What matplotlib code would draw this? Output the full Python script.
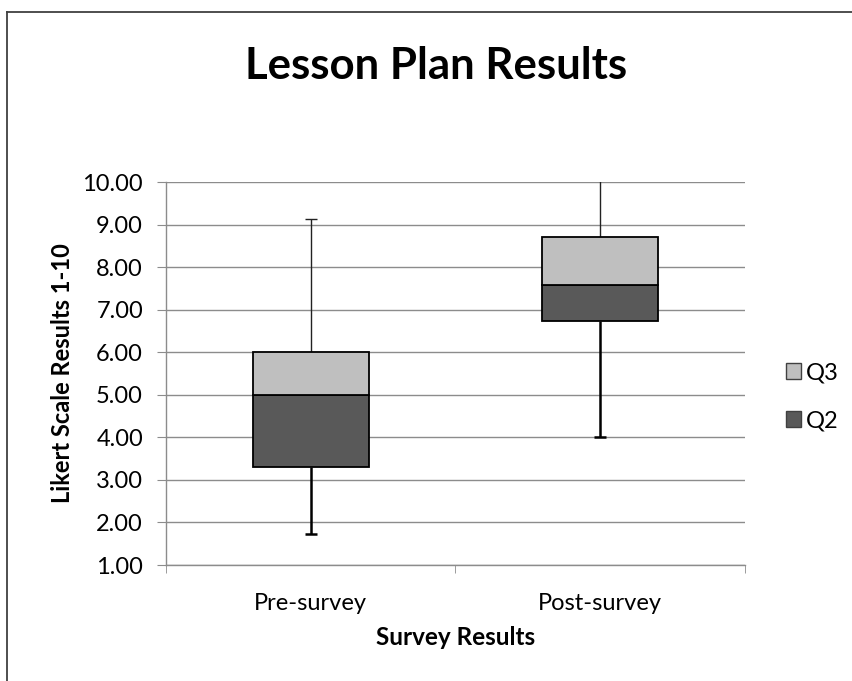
import matplotlib
matplotlib.use("Agg")
import matplotlib.pyplot as plt
from matplotlib.lines import Line2D
from matplotlib.patches import Patch

plt.rcParams['font.family'] = ['Lato', 'DejaVu Sans']

groups = ['Pre-survey', 'Post-survey']
lo = [1.72, 4.02]       # whisker bottom
q1 = [3.30, 6.74]
med = [5.00, 7.58]
q3 = [6.00, 8.71]
hi = [9.14, 10.30]      # whisker top (post runs off the top)

grid_col = '#8c8c8c'
fig = plt.figure(figsize=(8.52, 6.81), dpi=100)
ax = fig.add_axes([0.1948, 0.1703, 0.6796, 0.5624])

x = list(range(len(groups)))
low_seg = [m - a for m, a in zip(med, q1)]
up_seg = [b - m for b, m in zip(q3, med)]

ax.bar(x, low_seg, bottom=q1, width=0.4, color='#595959',
       edgecolor='black', linewidth=1.3, zorder=3)
ax.bar(x, up_seg, bottom=med, width=0.4, color='#bfbfbf',
       edgecolor='black', linewidth=1.3, zorder=3)

# whiskers: thick below the box, thin above
ax.vlines(x, lo, q1, color='black', linewidth=1.8, zorder=2.5)
ax.plot(x, lo, ls='none', marker='_', markersize=9, markeredgewidth=1.8,
        color='black', zorder=2.5)
ax.vlines(x, q3, hi, color='#222222', linewidth=1.0, zorder=2.5)
ax.plot(x, hi, ls='none', marker='_', markersize=9, markeredgewidth=1.0,
        color='#222222', zorder=2.5)

ax.set_ylim(1, 10)
ax.set_xlim(-0.5, 1.5)
ax.set_yticks(range(1, 11))
ax.set_yticklabels(['%.2f' % v for v in range(1, 11)])
ax.set_xticks(x)
ax.set_xticklabels(groups)
ax.set_xticks([-0.5, 0.5, 1.5], minor=True)
ax.tick_params(axis='x', which='major', length=0, pad=20, labelsize=17)
ax.tick_params(axis='x', which='minor', length=6, color=grid_col, direction='out')
ax.tick_params(axis='y', length=6.5, color=grid_col, pad=10, labelsize=17)
ax.grid(axis='y', color=grid_col, linewidth=1.0, zorder=0)
ax.set_axisbelow(True)
for s in ['top', 'right']:
    ax.spines[s].set_visible(False)
for s in ['left', 'bottom']:
    ax.spines[s].set_color(grid_col)
    ax.spines[s].set_linewidth(1.0)

ax.set_xlabel('Survey Results', fontsize=17.5, fontweight='bold', labelpad=9)
ax.set_ylabel('Likert Scale Results 1-10', fontsize=17, fontweight='bold', labelpad=6)

fig.text(0.512, 0.903, 'Lesson Plan Results', ha='center', va='center',
         fontsize=31.5, fontweight='bold')

handles = [Patch(facecolor='#bfbfbf', edgecolor='#404040', linewidth=1.0),
           Patch(facecolor='#595959', edgecolor='#404040', linewidth=1.0)]
fig.legend(handles, ['Q3', 'Q2'], loc='center left',
           bbox_to_anchor=(0.922, 0.417), frameon=False, fontsize=17,
           handlelength=0.65, handleheight=0.65, handletextpad=0.2,
           labelspacing=1.15, borderpad=0, borderaxespad=0)

# outer chart frame (left and top edges)
fig.add_artist(Line2D([7 / 852, 7 / 852], [0, 1 - 12 / 681], transform=fig.transFigure,
                      color='#404040', linewidth=1.3))
fig.add_artist(Line2D([7 / 852, 1], [1 - 12 / 681, 1 - 12 / 681], transform=fig.transFigure,
                      color='#404040', linewidth=1.3))

fig.savefig('out.png', dpi=100)
